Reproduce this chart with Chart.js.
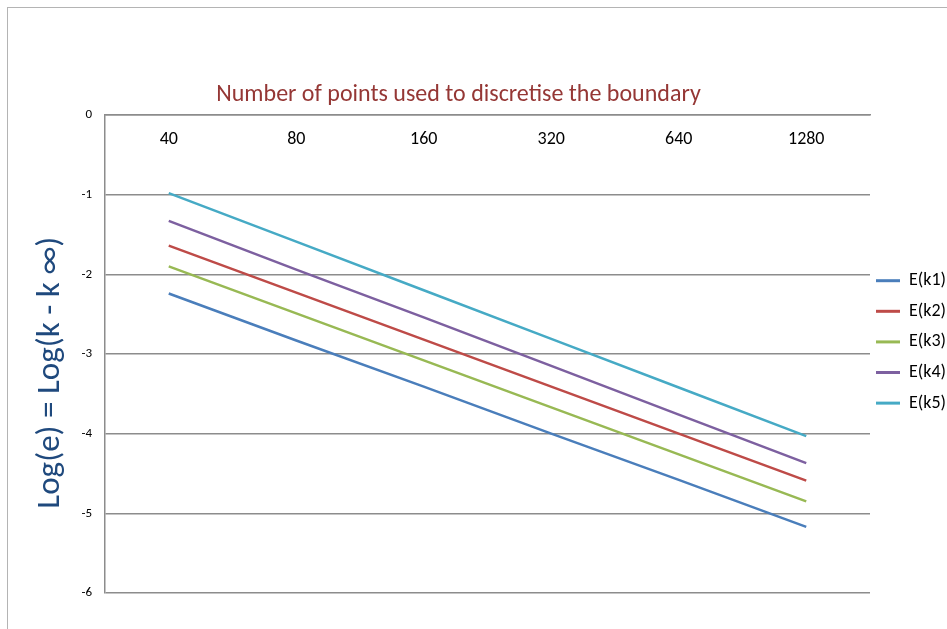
<!DOCTYPE html>
<html>
<head>
<meta charset="utf-8">
<script src="https://cdn.jsdelivr.net/npm/chart.js@4.4.0/dist/chart.umd.min.js"></script>
<style>
    body { margin: 0; background: #fff; overflow: hidden; }
    #wrap { position: relative; width: 947px; height: 629px; }
    #frame { position: absolute; left: 7px; top: 7px; width: 1000px; height: 1000px; border: 1.5px solid #b4b4b4; }
    #chart { position: absolute; left: 0; top: 0; }
</style>
</head>
<body>
<div id="wrap">
    <div id="frame"></div>
    <canvas id="chart" width="947" height="629"></canvas>
</div>
<script>
const FONT = "Carlito, Lato, 'Open Sans', sans-serif";

// number of boundary points (category axis)
const categories = ["40", "80", "160", "320", "640", "1280"];

// log error for each k
const ek1 = [-2.24, -2.83, -3.41, -4.00, -4.58, -5.17];
const ek2 = [-1.64, -2.23, -2.82, -3.41, -4.00, -4.59];
const ek3 = [-1.90, -2.49, -3.08, -3.67, -4.26, -4.85];
const ek4 = [-1.33, -1.94, -2.54, -3.15, -3.76, -4.37];
const ek5 = [-0.98, -1.59, -2.20, -2.81, -3.42, -4.03];

const seriesNames = ["E(k1)", "E(k2)", "E(k3)", "E(k4)", "E(k5)"];
const seriesColors = ["#4A7EBB", "#BE4B48", "#98B954", "#7D60A0", "#46AAC5"];

const yTicks = [0, -1, -2, -3, -4, -5, -6];

const gridColor = "#8c8c8c";

const datasets = [ek1, ek2, ek3, ek4, ek5].map((vals, i) => ({
    label: seriesNames[i],
    data: vals,
    borderColor: seriesColors[i],
    backgroundColor: seriesColors[i],
    borderWidth: 2.5,
    pointRadius: 0,
    tension: 0
}));

const ctx = document.getElementById("chart").getContext("2d");
new Chart(ctx, {
    type: "line",
    data: { labels: categories, datasets: datasets },
    options: {
        responsive: false,
        animation: false,
        layout: { padding: { left: -30, right: 0, top: 0, bottom: 36 } },
        plugins: {
            title: {
                display: true,
                text: "Number of points used to discretise the boundary",
                color: "#953735",
                font: { family: FONT, size: 24, weight: "normal", lineHeight: 1.2 },
                padding: { top: 80.6, bottom: 0 }
            },
            legend: {
                position: "right",
                align: "start",
                fullSize: true,
                maxWidth: 77,
                title: {
                    display: true,
                    text: " ",
                    font: { size: 10, lineHeight: 1 },
                    padding: { top: 255.7, bottom: 0 }
                },
                labels: {
                    boxWidth: 24,
                    boxHeight: 3,
                    padding: 6,
                    color: "#000",
                    font: { family: FONT, size: 18, lineHeight: 1.367 },
                    // text as an array so the row height follows the font lineHeight
                    generateLabels: chart => chart.data.datasets.map((ds, i) => ({
                        text: [ds.label],
                        fillStyle: ds.borderColor,
                        strokeStyle: ds.borderColor,
                        lineWidth: 0,
                        hidden: false,
                        datasetIndex: i,
                        fontColor: "#000"
                    }))
                }
            },
            tooltip: { enabled: false }
        },
        scales: {
            x: {
                position: "top",
                offset: true,
                grid: { display: false, drawTicks: false },
                border: { display: true, color: gridColor, width: 1.5 },
                ticks: {
                    mirror: true,
                    padding: 13.2,
                    color: "#000",
                    font: { family: FONT, size: 18 }
                },
                afterFit: scale => { scale.height = 5.6; }
            },
            y: {
                min: -6,
                max: 0,
                afterBuildTicks: scale => { scale.ticks = yTicks.map(v => ({ value: v })); },
                grid: { color: gridColor, lineWidth: 1.5, drawTicks: false },
                border: { display: true, color: gridColor, width: 1.5 },
                ticks: {
                    padding: 13,
                    color: "#000",
                    font: { family: FONT, size: 13 }
                },
                title: {
                    display: true,
                    text: "Log(e) = Log(k - k ∞)     ",
                    color: "#1F497D",
                    font: { family: FONT, size: 33, lineHeight: 1.2 },
                    padding: { top: 61.2, bottom: 0 }
                },
                afterFit: scale => { scale.width = 135; }
            }
        }
    }
});
</script>
</body>
</html>
